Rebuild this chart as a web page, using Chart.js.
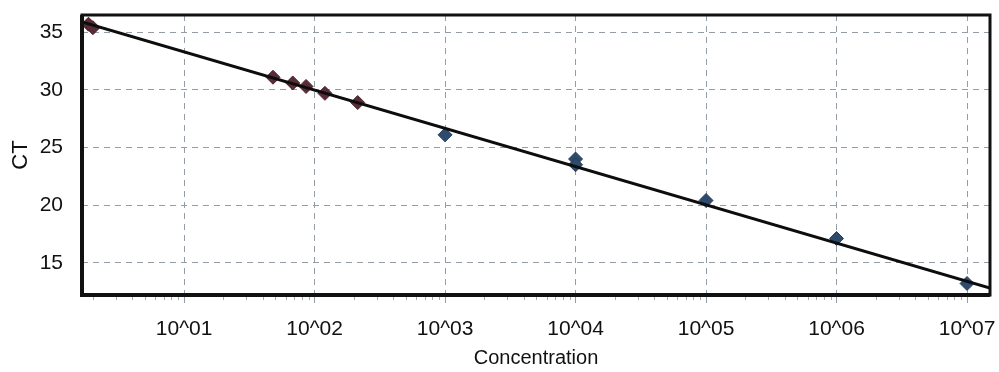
<!DOCTYPE html>
<html>
<head>
<meta charset="utf-8">
<script src="https://cdn.jsdelivr.net/npm/chart.js@4"></script>
<style>
  html, body { margin: 0; padding: 0; background: #fff; }
  #wrap { width: 999px; height: 372px; }
</style>
</head>
<body>
<div id="wrap"><canvas id="ctChart"></canvas></div>
<script>
// Standard curve data
const lowConcX = [1.85, 2.0, 48, 68, 86, 120, 214];
const lowConcY = [35.7, 35.4, 31.1, 30.6, 30.3, 29.7, 28.9];
const stdConcX = [1000, 10000, 10000, 100000, 1000000, 10000000];
const stdConcY = [26.1, 24.0, 23.5, 20.4, 17.1, 13.2];
const fitX = [1.65, 1.5e7];
const fitY = [35.9, 12.8];

const xTicks = [10, 100, 1000, 10000, 100000, 1000000, 10000000];
const xTickLabels = ["10^01", "10^02", "10^03", "10^04", "10^05", "10^06", "10^07"];
const yTicks = [15, 20, 25, 30, 35];

const toPoints = (xs, ys) => xs.map((x, i) => ({ x: x, y: ys[i] }));

// frame round the plot area + small minor ticks under the x axis
const framePlugin = {
    id: "frame",
    afterDraw(chart) {
        const { ctx, chartArea: a, scales } = chart;
        ctx.save();
        ctx.strokeStyle = "#a3a9b0";
        ctx.lineWidth = 1;
        for (let p = 0; p <= 7; p++) {
            for (let m = 2; m <= 9; m++) {
                const v = m * Math.pow(10, p);
                if (v < scales.x.min || v > scales.x.max) continue;
                const px = Math.round(scales.x.getPixelForValue(v)) + 0.5;
                ctx.beginPath();
                ctx.moveTo(px, a.bottom);
                ctx.lineTo(px, a.bottom + 5);
                ctx.stroke();
            }
        }
        ctx.strokeStyle = "#111";
        ctx.lineWidth = 3;
        ctx.strokeRect(a.left, a.top, a.right - a.left, a.bottom - a.top);
        // heavier left and bottom edges
        ctx.beginPath();
        ctx.moveTo(a.left, a.top);
        ctx.lineTo(a.left, a.bottom);
        ctx.lineTo(a.right, a.bottom);
        ctx.lineWidth = 4;
        ctx.stroke();
        ctx.restore();
    }
};

const ctx = document.getElementById("ctChart").getContext("2d");

const chart = new Chart(ctx, {
    type: "scatter",
    data: {
        datasets: [
            {
                label: "Fit",
                type: "line",
                data: toPoints(fitX, fitY),
                borderColor: "#0d0d0d",
                borderWidth: 3,
                pointRadius: 0,
                fill: false,
                order: 0
            },
            {
                label: "Low",
                data: toPoints(lowConcX, lowConcY),
                pointStyle: "rectRot",
                pointRadius: 7,
                backgroundColor: "#5a2c38",
                borderColor: "#4a2630",
                borderWidth: 1,
                order: 1
            },
            {
                label: "Standards",
                data: toPoints(stdConcX, stdConcY),
                pointStyle: "rectRot",
                pointRadius: 7,
                backgroundColor: "#2e4a6c",
                borderColor: "#26405e",
                borderWidth: 1,
                order: 1
            }
        ]
    },
    options: {
        responsive: true,
        maintainAspectRatio: false,
        animation: false,
        layout: { padding: { top: 15, right: 9, left: 0, bottom: 0 } },
        plugins: {
            legend: { display: false },
            tooltip: { enabled: false }
        },
        scales: {
            x: {
                type: "logarithmic",
                min: 1.65,
                max: 1.5e7,
                afterBuildTicks: s => { s.ticks = xTicks.map(v => ({ value: v, major: true })); },
                afterFit: s => { s.height = 77; s.paddingLeft = 0; s.paddingRight = 0; },
                grid: {
                    color: "#949ca5",
                    lineWidth: 1,
                    drawTicks: true,
                    tickLength: 8,
                    tickColor: "#949ca5"
                },
                border: { display: false, dash: [6, 5] },
                ticks: {
                    color: "#111",
                    font: { family: "Liberation Sans, Arial", size: 21 },
                    padding: 14,
                    maxRotation: 0,
                    autoSkip: false,
                    callback: (v) => {
                        const i = xTicks.indexOf(v);
                        return i >= 0 ? xTickLabels[i] : "";
                    }
                },
                title: {
                    display: true,
                    text: "Concentration",
                    color: "#111",
                    font: { family: "Liberation Sans, Arial", size: 20 },
                    padding: { top: 0, bottom: 2 }
                }
            },
            y: {
                min: 12.2,
                max: 36.5,
                afterBuildTicks: s => { s.ticks = yTicks.map(v => ({ value: v })); },
                afterFit: s => { s.width = 82; s.paddingTop = 0; s.paddingBottom = 0; },
                grid: {
                    color: "#949ca5",
                    lineWidth: 1,
                    drawTicks: false
                },
                border: { display: false, dash: [6, 5] },
                ticks: {
                    color: "#111",
                    font: { family: "Liberation Sans, Arial", size: 21 },
                    padding: 19
                },
                title: {
                    display: true,
                    text: "CT",
                    color: "#111",
                    font: { family: "Liberation Sans, Arial", size: 22 },
                    padding: { top: 8, bottom: 0 }
                }
            }
        }
    },
    plugins: [framePlugin]
});
</script>
</body>
</html>
